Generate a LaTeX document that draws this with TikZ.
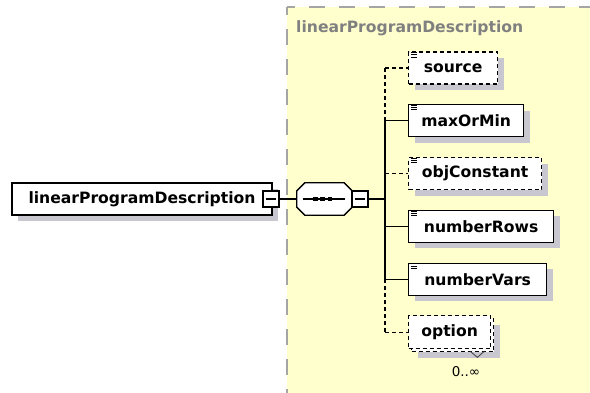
\documentclass[tikz,border=0pt]{standalone}
\usepackage{fontspec}
\setmainfont{DejaVu Sans}
\usetikzlibrary{calc,shadows}
\definecolor{panelfill}{RGB}{255,255,206}
\definecolor{panelline}{RGB}{165,165,165}
\definecolor{shade}{RGB}{200,198,206}
\definecolor{titlegray}{RGB}{128,128,128}
\begin{document}
\begin{tikzpicture}[x=1pt,y=-1pt,
  elemfont/.style={font=\fontsize{15.6}{18}\selectfont\bfseries},
  elem/.style={elemfont, draw=black, line width=1.3pt, fill=white,
    minimum height=32pt, inner sep=0pt,
    drop shadow={shadow xshift=6pt, shadow yshift=-6pt, fill=shade, opacity=1}},
  plainelem/.style={elemfont, draw=black, line width=1.3pt, fill=white,
    minimum height=32pt, inner sep=0pt},
  optline/.style={dash pattern=on 4pt off 3pt},
  conn/.style={draw=black, line width=1.3pt},
  collapse/.style={draw=black, line width=1.1pt, fill=white, minimum size=16pt,
    inner sep=0pt,
    path picture={\draw[line width=1.1pt]
      ($(path picture bounding box.center)+(-5,0)$) -- ++(10,0);}},
  chld/.style={anchor=west},
]
\useasboundingbox (0,0) rectangle (590,392);
\fill[white] (0,0) rectangle (590,392);

% content model panel
\fill[panelfill] (287,7) rectangle (592,394);
\draw[panelline, line width=1.6pt, dash pattern=on 16pt off 14pt, dash phase=8pt]
  (287,7) -- (287,394);
\draw[panelline, line width=1.6pt, dash pattern=on 16pt off 14pt, dash phase=8pt]
  (287,7) -- (592,7);
\node[elemfont, text=titlegray, anchor=west, inner sep=0pt] (title) at (296,28)
  {linearProgramDescription};

% root element
\node[elem, minimum width=260pt] (main) at (142,199) {linearProgramDescription};
\node[collapse] (mainx) at (271,199) {};

% sequence compositor
\node[minimum width=55pt, minimum height=32pt, inner sep=0pt] (seq) at (324.5,199) {};
\fill[shade, shift={(6,6)}]
  ($(seq.north west)+(8,0)$) -- ($(seq.north east)+(-8,0)$) --
  ($(seq.north east)+(0,8)$) -- ($(seq.south east)+(0,-8)$) --
  ($(seq.south east)+(-8,0)$) -- ($(seq.south west)+(8,0)$) --
  ($(seq.south west)+(0,-8)$) -- ($(seq.north west)+(0,8)$) -- cycle;
\draw[line width=1.3pt, fill=white]
  ($(seq.north west)+(8,0)$) -- ($(seq.north east)+(-8,0)$) --
  ($(seq.north east)+(0,8)$) -- ($(seq.south east)+(0,-8)$) --
  ($(seq.south east)+(-8,0)$) -- ($(seq.south west)+(8,0)$) --
  ($(seq.south west)+(0,-8)$) -- ($(seq.north west)+(0,8)$) -- cycle;
\draw[line width=1.3pt] ($(seq.west)+(6,0)$) -- ($(seq.east)+(-7,0)$);
\foreach \dx in {-9,-2,5.5}
  \fill ($(seq.center)+(\dx,0)+(-2.2,-2.2)$) rectangle ++(4.4,4.4);
\node[collapse] (seqx) at (360,199) {};

\draw[conn] (mainx.east) -- (seq.west);
\coordinate (bus) at (385,199);
\draw[conn] (seqx.east) -- (bus);

% child elements
\node[elem, optline, chld, minimum width=89pt]  (src)  at (408,68)    {source};
\node[elem, chld, minimum width=115pt]          (max)  at (408,120.8) {maxOrMin};
\node[elem, optline, chld, minimum width=133pt] (obj)  at (408,173.6) {objConstant};
\node[elem, chld, minimum width=145pt]          (rows) at (408,226.4) {numberRows};
\node[elem, chld, minimum width=138pt]          (vars) at (408,279.2) {numberVars};
\node[elem, optline, chld, minimum width=82pt, minimum height=33pt] (optback) at (411,335.2) {};
\node[plainelem, optline, chld, minimum width=82pt, minimum height=33pt] (opt) at (408,332.2) {option};

% simple-content marks
\foreach \n in {src,max,obj,rows,vars}
  \foreach \k in {1.2,3.4,5.6}
    \draw[line width=0.8pt] ($(\n.north west)+(3,\k)$) -- ++(6,0);

% multiplicity
\draw[line width=0.8pt, black!75]
  ($(optback.south east)+(-24,-1)$) -- ($(optback.south east)+(-17,5)$) --
  ($(optback.south east)+(-10,-1)$);
\node[font=\fontsize{13.5}{16}\selectfont, inner sep=0pt] (optcount) at (466,372) {0..∞};

% connectors
\draw[conn, optline] (bus |- src.west) -- (bus |- max.west);
\draw[conn] (bus |- max.west) -- (bus |- vars.west);
\draw[conn, optline] (bus |- vars.west) -- (bus |- opt.west);
\draw[conn, optline] (bus |- src.west) -- (src.west);
\draw[conn] (bus |- max.west) -- (max.west);
\draw[conn, optline] (bus |- obj.west) -- (obj.west);
\draw[conn] (bus |- rows.west) -- (rows.west);
\draw[conn] (bus |- vars.west) -- (vars.west);
\draw[conn, optline] (bus |- opt.west) -- (opt.west);
\end{tikzpicture}
\end{document}
